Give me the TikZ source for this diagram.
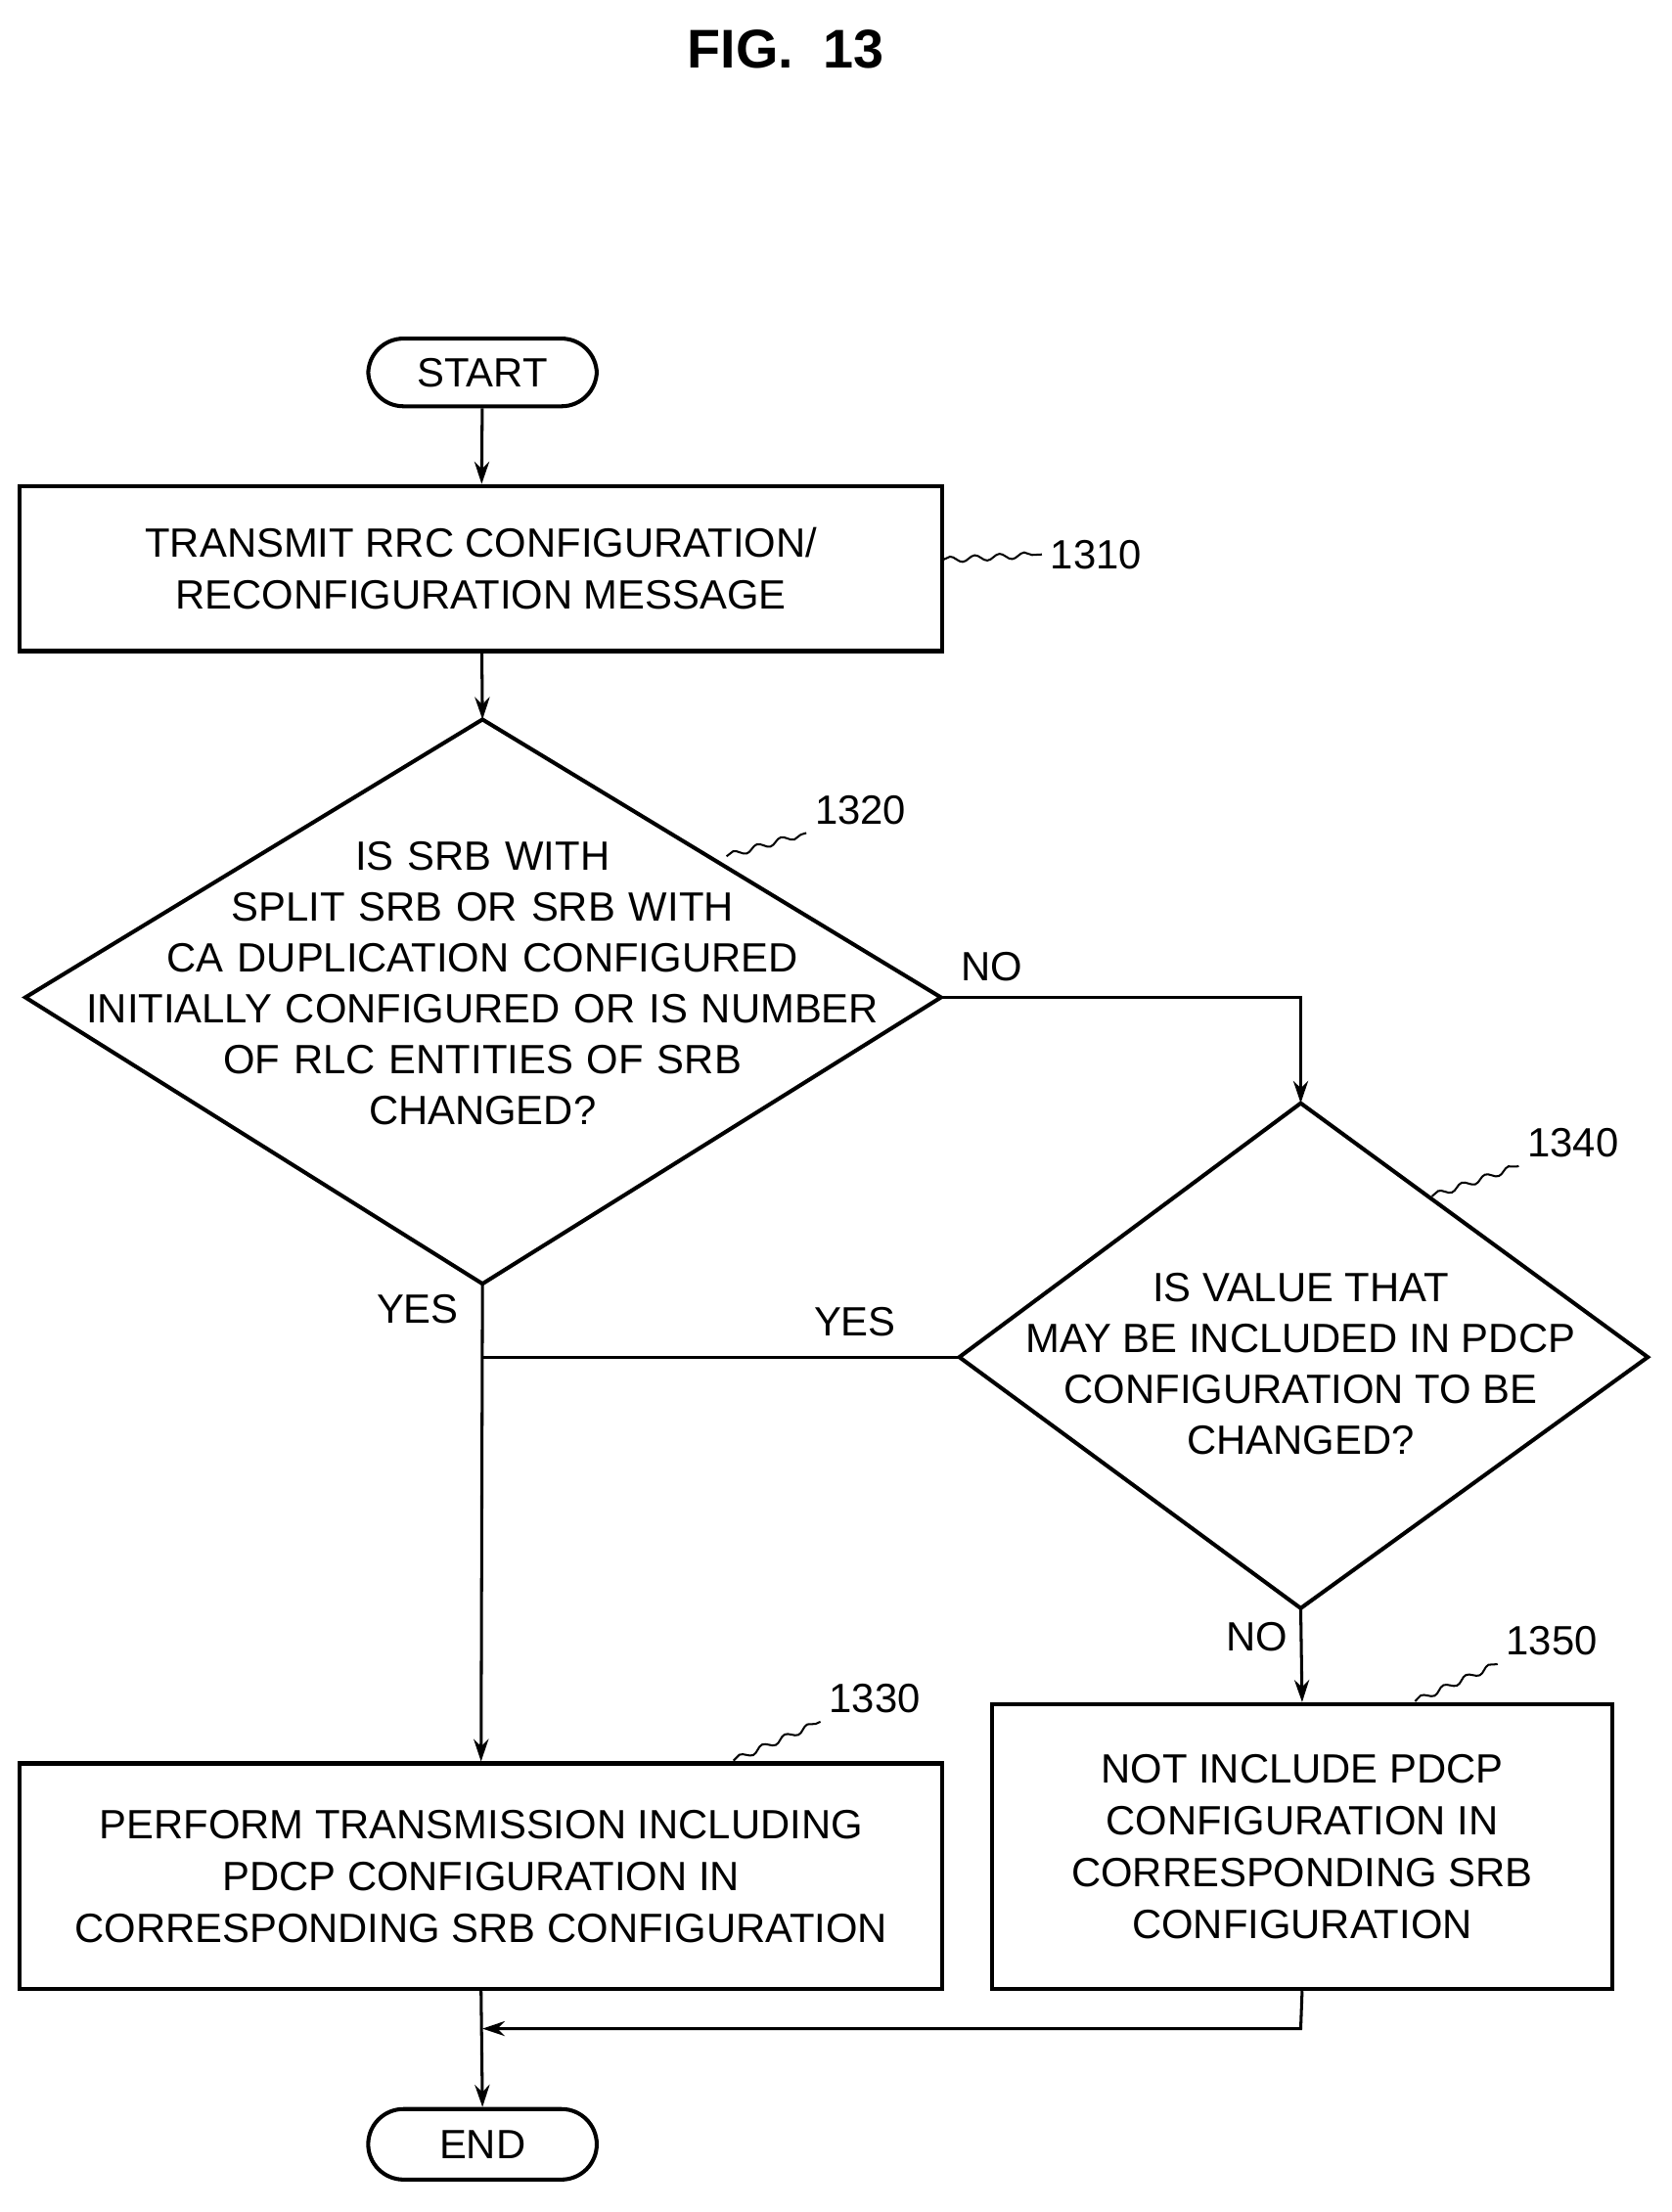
\documentclass[tikz,border=0pt]{standalone}
\usepackage{fontspec}
\setmainfont{Liberation Sans}
\usetikzlibrary{shapes.geometric,arrows.meta,decorations.pathmorphing}
\begin{document}
\begin{tikzpicture}[x=0.02cm,y=-0.02cm,
  txt/.style={font=\fontsize{16.5}{21}\selectfont,align=center},
  box/.style={draw,line width=1.6pt,txt},
  term/.style={draw,line width=1.6pt,rounded corners=25*0.02cm,txt},
  ln/.style={line width=1.2pt},
  arr/.style={ln,-{Stealth[length=9pt,width=6pt]}},
  lead/.style={line width=0.8pt,decorate,decoration={snake,amplitude=1.2pt,segment length=10pt}},
  lab/.style={font=\fontsize{16.5}{20}\selectfont}]
\useasboundingbox (0,0) rectangle (1185,1568);
\node[font=\bfseries\fontsize{22}{26}\selectfont\rmfamily] (title) at (557,35) {FIG.\ \ 13};
% start
\node[term,minimum width=162*0.02cm,minimum height=48*0.02cm] (start) at (342,264) {START};
\node[box,minimum width=654*0.02cm,minimum height=117*0.02cm] (b1310) at (341,403) {TRANSMIT RRC CONFIGURATION/\\RECONFIGURATION MESSAGE};
\draw[line width=1.6pt] (18,707) coordinate (d1l) -- (342,510) coordinate (d1t) -- (667,707) coordinate (d1r) -- (342,910) coordinate (d1b) -- cycle;
\node[txt,text width=600*0.02cm,font=\fontsize{16.5}{20.5}\selectfont] (t1320) at (342,697) {IS SRB WITH\\SPLIT SRB OR SRB WITH\\CA DUPLICATION CONFIGURED\\INITIALLY CONFIGURED OR IS NUMBER\\OF RLC ENTITIES OF SRB\\CHANGED?};
\draw[line width=1.6pt] (680,962) coordinate (d2l) -- (922,782) coordinate (d2t) -- (1168,962) coordinate (d2r) -- (922,1140) coordinate (d2b) -- cycle;
\node[txt,font=\fontsize{16.5}{20.5}\selectfont] (t1340) at (922,967) {IS VALUE THAT\\MAY BE INCLUDED IN PDCP\\CONFIGURATION TO BE\\CHANGED?};
\node[box,minimum width=654*0.02cm,minimum height=160*0.02cm] (b1330) at (341,1330) {PERFORM TRANSMISSION INCLUDING\\PDCP CONFIGURATION IN\\CORRESPONDING SRB CONFIGURATION};
\node[box,minimum width=440*0.02cm,minimum height=202*0.02cm] (b1350) at (923,1309) {NOT INCLUDE PDCP\\CONFIGURATION IN\\CORRESPONDING SRB\\CONFIGURATION};
\node[term,minimum width=162*0.02cm,minimum height=50*0.02cm] (endn) at (342,1520) {END};
% connectors
\draw[arr] (start) -- (b1310);
\draw[arr] (b1310) -- (d1t);
\coordinate (c1) at (922,707);
\draw[arr] (d1r) -- (c1) -- (d2t);
\draw[arr] (d1b) -- (b1330.north);
\coordinate (c2) at (342,962);
\draw[ln] (d2l) -- (c2);
\draw[arr] (d2b) -- (b1350.north);
\coordinate (c3) at (922,1438);
\coordinate (c4) at (342,1438);
\draw[arr] (b1350.south) -- (c3) -- (c4);
\draw[arr] (b1330.south) -- (endn.north);
% labels
\node[lab] at (703,685) {NO};
\node[lab] at (296,928) {YES};
\node[lab] at (606,937) {YES};
\node[lab] at (891,1160) {NO};
\node[lab] (l1310) at (777,393) {1310};
\node[lab] (l1320) at (610,574) {1320};
\node[lab] (l1340) at (1115,810) {1340};
\node[lab] (l1330) at (620,1204) {1330};
\node[lab] (l1350) at (1100,1163) {1350};
\coordinate (p1) at (668,397);
\coordinate (p2) at (515,607);
\coordinate (p3) at (1015,848);
\coordinate (p4) at (520,1248);
\coordinate (p5) at (1003,1206);
\draw[lead] (p1) -- (l1310.west);
\draw[lead] (p2) -- (l1320.south west);
\draw[lead] (p3) -- (l1340.south west);
\draw[lead] (p4) -- (l1330.south west);
\draw[lead] (p5) -- (l1350.south west);
\end{tikzpicture}
\end{document}
